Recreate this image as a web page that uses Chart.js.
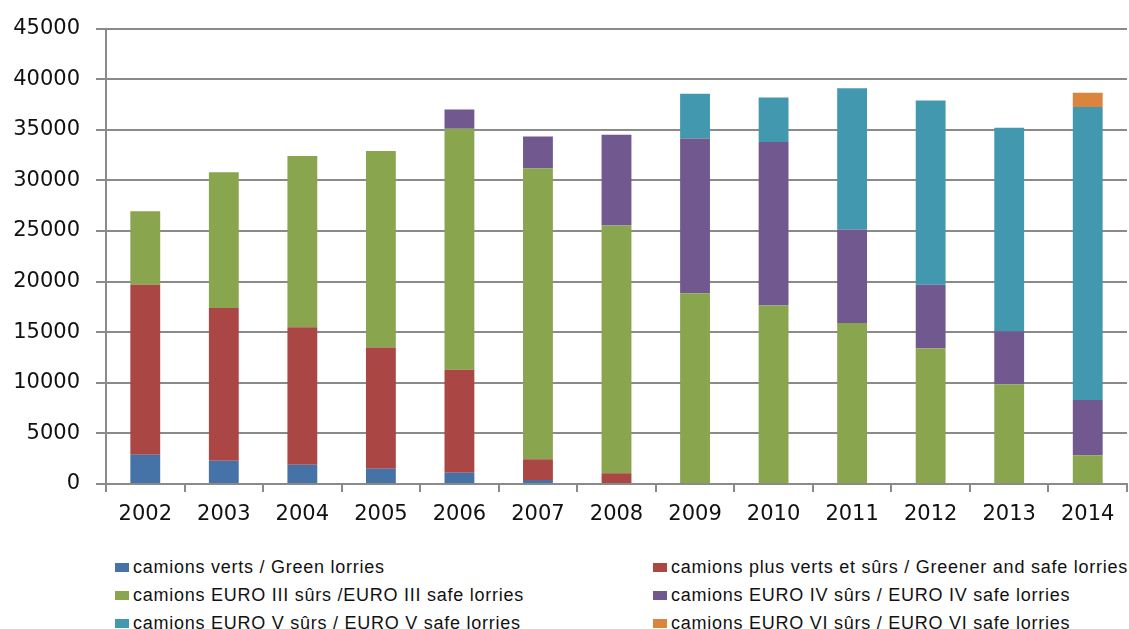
<!DOCTYPE html>
<html>
<head>
<meta charset="utf-8">
<script src="https://cdn.jsdelivr.net/npm/chart.js@4.4.1/dist/chart.umd.min.js"></script>
<style>
  body { margin: 0; background: #fff; }
  #wrap { position: relative; width: 1129px; height: 629px; }
  #legend {
    position: absolute; left: 115px; top: 553px;
    display: grid; grid-template-columns: 538px 480px; row-gap: 0;
    font-family: "Liberation Sans", Arial, sans-serif;
    font-size: 18px; letter-spacing: 0.75px; color: #111;
  }
  #legend div { height: 28px; line-height: 28px; white-space: nowrap; }
  #legend span.box { display: inline-block; width: 14px; height: 9px; margin-right: 4px; vertical-align: 1px; }
</style>
</head>
<body>
<div id="wrap">
  <canvas id="chart" width="1129" height="540"></canvas>
  <div id="legend"></div>
</div>
<script>
document.addEventListener('DOMContentLoaded', () => {
    // Data
    const years = ['2002', '2003', '2004', '2005', '2006', '2007', '2008',
                   '2009', '2010', '2011', '2012', '2013', '2014'];

    const greenLorries  = [2900, 2300, 1900, 1500, 1100, 400, 0, 0, 0, 0, 0, 0, 0];
    const greenerSafe   = [16800, 15100, 13600, 12000, 10200, 2050, 1050, 0, 0, 0, 0, 0, 0];
    const euro3Safe     = [7250, 13400, 16900, 19400, 23800, 28750, 24500, 18850, 17650, 15900, 13400, 9850, 2850];
    const euro4Safe     = [0, 0, 0, 0, 1900, 3150, 8950, 15300, 16150, 9250, 6300, 5250, 5450];
    const euro5Safe     = [0, 0, 0, 0, 0, 0, 0, 4400, 4400, 13950, 18200, 20100, 28950];
    const euro6Safe     = [0, 0, 0, 0, 0, 0, 0, 0, 0, 0, 0, 0, 1400];

    const seriesLabels = [
        'camions verts /  Green lorries',
        'camions plus verts et sûrs / Greener and safe lorries',
        'camions EURO III sûrs /EURO III safe lorries',
        'camions EURO IV sûrs / EURO IV safe lorries',
        'camions EURO V sûrs / EURO V safe lorries',
        'camions EURO VI sûrs / EURO VI safe lorries'
    ];
    const seriesColors = ['#4572A7', '#AA4643', '#89A54E', '#71588F', '#4198AF', '#DB843D'];
    const seriesData = [greenLorries, greenerSafe, euro3Safe, euro4Safe, euro5Safe, euro6Safe];

    const gridColor = '#8a8a8a';
    const tickFont = { family: '"DejaVu Sans", Verdana, sans-serif', size: 21 };

    const ctx = document.getElementById('chart').getContext('2d');

    const chart = new Chart(ctx, {
        type: 'bar',
        data: {
            labels: years,
            datasets: seriesData.map((d, i) => ({
                label: seriesLabels[i],
                data: d,
                backgroundColor: seriesColors[i],
                borderWidth: 0,
                categoryPercentage: 1,
                barPercentage: 0.38
            }))
        },
        options: {
            responsive: false,
            animation: false,
            layout: { padding: { top: 6, right: 2, left: 0, bottom: 0 } },
            scales: {
                x: {
                    stacked: true,
                    grid: {
                        offset: true,
                        drawOnChartArea: false,
                        color: gridColor,
                        lineWidth: 2,
                        tickLength: 8
                    },
                    border: { color: gridColor, width: 2 },
                    ticks: { color: '#111', font: tickFont, padding: 10 },
                    afterFit: s => { s.height = 56; }
                },
                y: {
                    stacked: true,
                    min: 0,
                    max: 45000,
                    grid: {
                        color: gridColor,
                        lineWidth: 2,
                        tickLength: 10
                    },
                    border: { color: gridColor, width: 2 },
                    ticks: {
                        stepSize: 5000,
                        color: '#111',
                        font: tickFont,
                        padding: 16,
                        callback: value => String(value)
                    },
                    afterFit: s => { s.width = 106; }
                }
            },
            plugins: {
                legend: { display: false },
                tooltip: { enabled: false }
            }
        }
    });

    // Two-column legend built from the chart's datasets
    const legendEl = document.getElementById('legend');
    chart.data.datasets.forEach(ds => {
        const item = document.createElement('div');
        const box = document.createElement('span');
        box.className = 'box';
        box.style.background = ds.backgroundColor;
        item.appendChild(box);
        item.appendChild(document.createTextNode(ds.label));
        legendEl.appendChild(item);
    });
});
</script>
</body>
</html>
